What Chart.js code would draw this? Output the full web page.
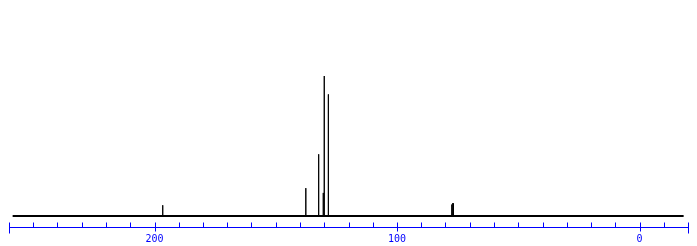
<!DOCTYPE html>
<html>
<head>
<meta charset="utf-8">
<script src="https://cdn.jsdelivr.net/npm/chart.js@4/dist/chart.umd.min.js"></script>
<style>
  html, body { margin: 0; padding: 0; background: #ffffff; }
  #wrap { width: 697px; height: 246px; }
</style>
</head>
<body>
<div id="wrap"><canvas id="nmrChart" width="697" height="246"></canvas></div>
<script>
// Peak positions (ppm) and heights (tallest = 100)
const peakPpm    = [196.6, 137.6, 132.3, 130.4, 130.0, 128.3, 77.4, 77.0, 76.7];
const peakHeight = [  7.7,  19.9,  44.1,  16.5, 100.0,  86.9,  8.2,  9.2,  9.0];

// Recorded range of the spectrum (ppm)
const spectrumStart = 258.5;
const spectrumEnd = -18.2;

// Axis range and ticks (ppm)
const axisMax = 260;
const axisMin = -20;
const minorTicks = [250, 240, 230, 220, 210, 190, 180, 170, 160, 150, 140, 130, 120, 110,
                    90, 80, 70, 60, 50, 40, 30, 20, 10, -10];
const labelTicks = [200, 100, 0];
const tickLabels = ['200', '100', '0'];

// Build the line points: each peak is a narrow spike off the baseline
const spectrumPoints = [];
peakPpm.forEach((p, i) => {
    spectrumPoints.push({ x: p + 0.001, y: 0 });
    spectrumPoints.push({ x: p, y: peakHeight[i] });
    spectrumPoints.push({ x: p - 0.001, y: 0 });
});

// Draw the blue ppm axis using the chart's x scale
const ppmAxis = {
    id: 'ppmAxis',
    afterDraw(chart) {
        const ctx = chart.ctx;
        const xs = chart.scales.x;
        const px = v => Math.round(xs.getPixelForValue(v)) + 0.5;
        const axisY = 227.5;
        ctx.save();
        ctx.strokeStyle = '#0000ff';
        ctx.fillStyle = '#0000ff';
        ctx.lineWidth = 1;
        ctx.beginPath();
        ctx.moveTo(px(axisMax), axisY);
        ctx.lineTo(px(axisMin), axisY);
        minorTicks.forEach(v => {
            ctx.moveTo(px(v), axisY - 5);
            ctx.lineTo(px(v), axisY);
        });
        labelTicks.forEach(v => {
            ctx.moveTo(px(v), axisY - 5);
            ctx.lineTo(px(v), axisY + 4);
        });
        [axisMax, axisMin].forEach(v => {
            ctx.moveTo(px(v), axisY - 5);
            ctx.lineTo(px(v), axisY + 6);
        });
        ctx.stroke();
        ctx.font = '10px "DejaVu Sans Mono", monospace';
        ctx.textAlign = 'center';
        ctx.textBaseline = 'alphabetic';
        labelTicks.forEach((v, i) => {
            ctx.fillText(tickLabels[i], xs.getPixelForValue(v), 241.5);
        });
        ctx.restore();
    }
};

new Chart(document.getElementById('nmrChart').getContext('2d'), {
    type: 'line',
    data: {
        datasets: [
            {
                data: [{ x: spectrumStart, y: 0 }, { x: spectrumEnd, y: 0 }],
                borderColor: '#000000',
                borderWidth: 2,
                pointRadius: 0,
                tension: 0,
                clip: false
            },
            {
                data: spectrumPoints,
                borderColor: '#000000',
                borderWidth: 1,
                pointRadius: 0,
                tension: 0,
                clip: false
            }
        ]
    },
    options: {
        responsive: false,
        animation: false,
        events: [],
        layout: { padding: { left: 9, right: 9, top: 20, bottom: 24.4 } },
        plugins: {
            legend: { display: false },
            tooltip: { enabled: false }
        },
        scales: {
            x: { type: 'linear', reverse: true, min: axisMin, max: axisMax, display: false },
            y: { type: 'linear', min: -4, max: 140, display: false }
        }
    },
    plugins: [ppmAxis]
});
</script>
</body>
</html>
